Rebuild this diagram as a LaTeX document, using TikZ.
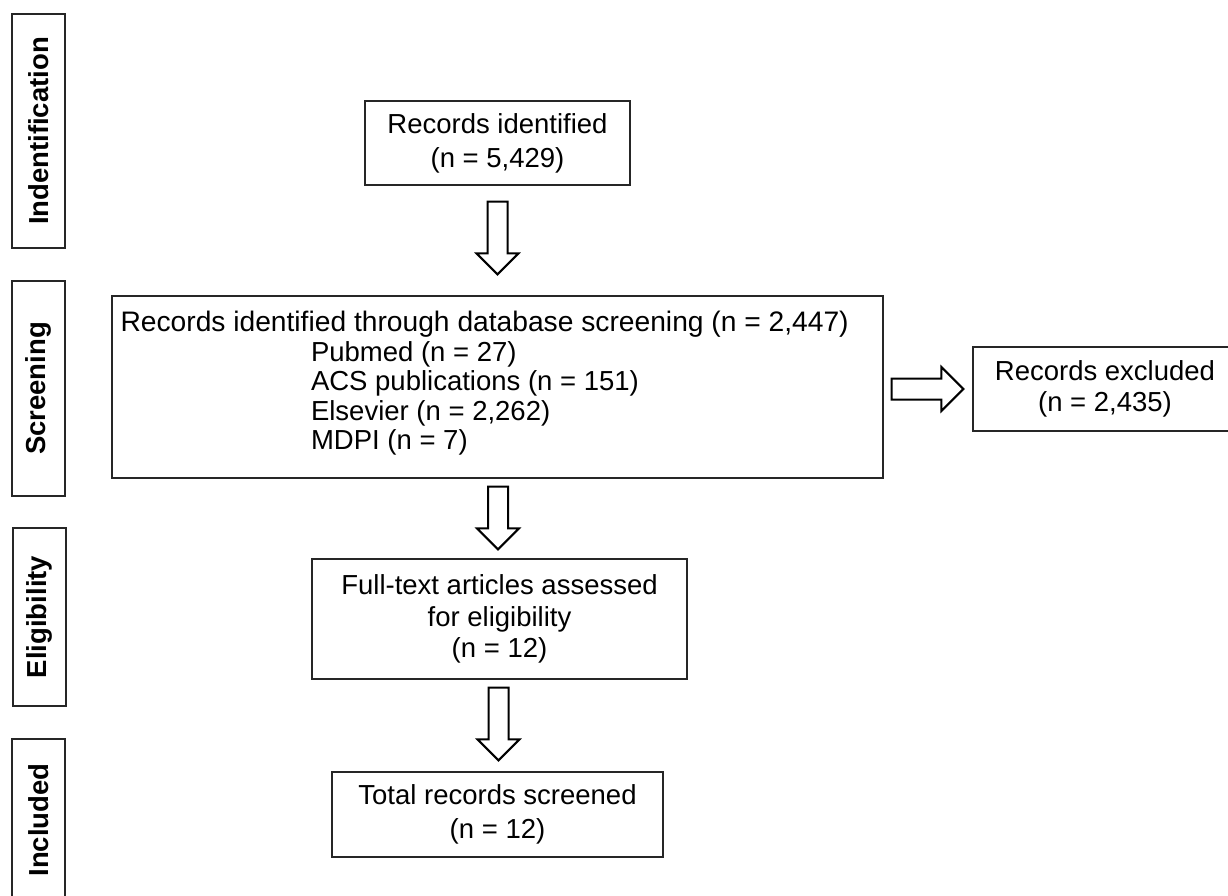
\documentclass[tikz,border=0pt]{standalone}
\usepackage{fontspec}
\setmainfont{Liberation Sans}
\usetikzlibrary{calc}
\tikzset{
  box/.style={draw=black!85, line width=1.3pt, fill=white, inner sep=0pt, align=center,
    font=\fontsize{27.5}{31.5}\selectfont},
  stagebox/.style={draw=black!85, line width=1.3pt, inner sep=0pt, minimum width=53pt},
  stagetxt/.style={rotate=90, font=\fontsize{27.5}{31.5}\selectfont\bfseries, inner sep=0pt},
  txt/.style={inner sep=0pt, font=\fontsize{27.5}{29.5}\selectfont},
  blk/.style={draw=black, line width=2pt, fill=white, line join=miter},
}
\newcommand\blockdown[2]{%
  \path[blk] let \p1=(#1), \p2=(#2) in
    (\x1-10pt,\y1) -- (\x1+10pt,\y1) -- (\x1+10pt,\y2+21pt) -- (\x1+21pt,\y2+21pt)
    -- (\x1,\y2) -- (\x1-21pt,\y2+21pt) -- (\x1-10pt,\y2+21pt) -- cycle;}
\newcommand\blockright[2]{%
  \path[blk] let \p1=(#1), \p2=(#2) in
    (\x1,\y1+10.5pt) -- (\x2-22pt,\y1+10.5pt) -- (\x2-22pt,\y1+22pt) -- (\x2,\y1)
    -- (\x2-22pt,\y1-22pt) -- (\x2-22pt,\y1-10.5pt) -- (\x1,\y1-10.5pt) -- cycle;}
\begin{document}
\begin{tikzpicture}[x=1pt,y=-1pt]
\useasboundingbox (0,0) rectangle (1228,895);
\begin{scope}
\clip (0,0) rectangle (1228,895);
% stage labels
\node[stagebox, minimum height=234pt] (sid) at (38.5,131) {};
\node[stagetxt] at (sid.center) {Indentification};
\node[stagebox, minimum height=215pt] (ssc) at (38.5,388.5) {};
\node[stagetxt] at (ssc.center) {Screening};
\node[stagebox, minimum height=178pt] (sel) at (39.5,617) {};
\node[stagetxt] at (sel.center) {Eligibility};
\node[stagebox, minimum height=162pt] (sin) at (38.5,820) {};
\node[stagetxt] at (sin.center) {Included};
% excluded box (runs past the right edge)
\node[box, minimum width=264pt, minimum height=84pt] (exc) at (1105,389)
  {Records excluded\\(n = 2,435)};
\end{scope}
% main boxes
\node[box, minimum width=265pt, minimum height=84pt,
  font=\fontsize{27.5}{34}\selectfont] (rid) at (497.5,143)
  {Records identified\\(n = 5,429)};
\node[box, minimum width=771pt, minimum height=182pt] (scr) at (497.5,387) {};
\node[txt, align=left, anchor=west] (scrt) at ($(scr.west)+(9,-3.5)$)
  {{\fontsize{28.2}{29.5}\selectfont Records identified through database screening (n = 2,447)}\\
   \hspace*{190.5pt}Pubmed (n = 27)\\
   \hspace*{190.5pt}ACS publications (n = 151)\\
   \hspace*{190.5pt}Elsevier (n = 2,262)\\
   \hspace*{190.5pt}MDPI (n = 7)};
\node[box, minimum width=375pt, minimum height=120pt] (elig) at (499.5,619)
  {Full-text articles assessed\\for eligibility\\(n = 12)};
\node[box, minimum width=331pt, minimum height=85pt,
  font=\fontsize{27.5}{34}\selectfont] (tot) at (497.5,814.5)
  {Total records screened\\(n = 12)};
% block arrows
\coordinate (a1s) at ($(rid.south)+(0,16)$);
\coordinate (a1t) at ($(scr.north)+(0,-21)$);
\blockdown{a1s}{a1t}
\coordinate (a2s) at ($(scr.south)+(0.5,8)$);
\coordinate (a2t) at ($(elig.north)+(0,-9)$);
\blockdown{a2s}{a2t}
\coordinate (a3s) at ($(elig.south)+(-1,8)$);
\coordinate (a3t) at ($(tot.north)+(0,-11)$);
\blockdown{a3s}{a3t}
\coordinate (a4s) at ($(scr.east |- exc.west)+(8,0)$);
\coordinate (a4t) at ($(exc.west)+(-9,0)$);
\blockright{a4s}{a4t}
\end{tikzpicture}
\end{document}
